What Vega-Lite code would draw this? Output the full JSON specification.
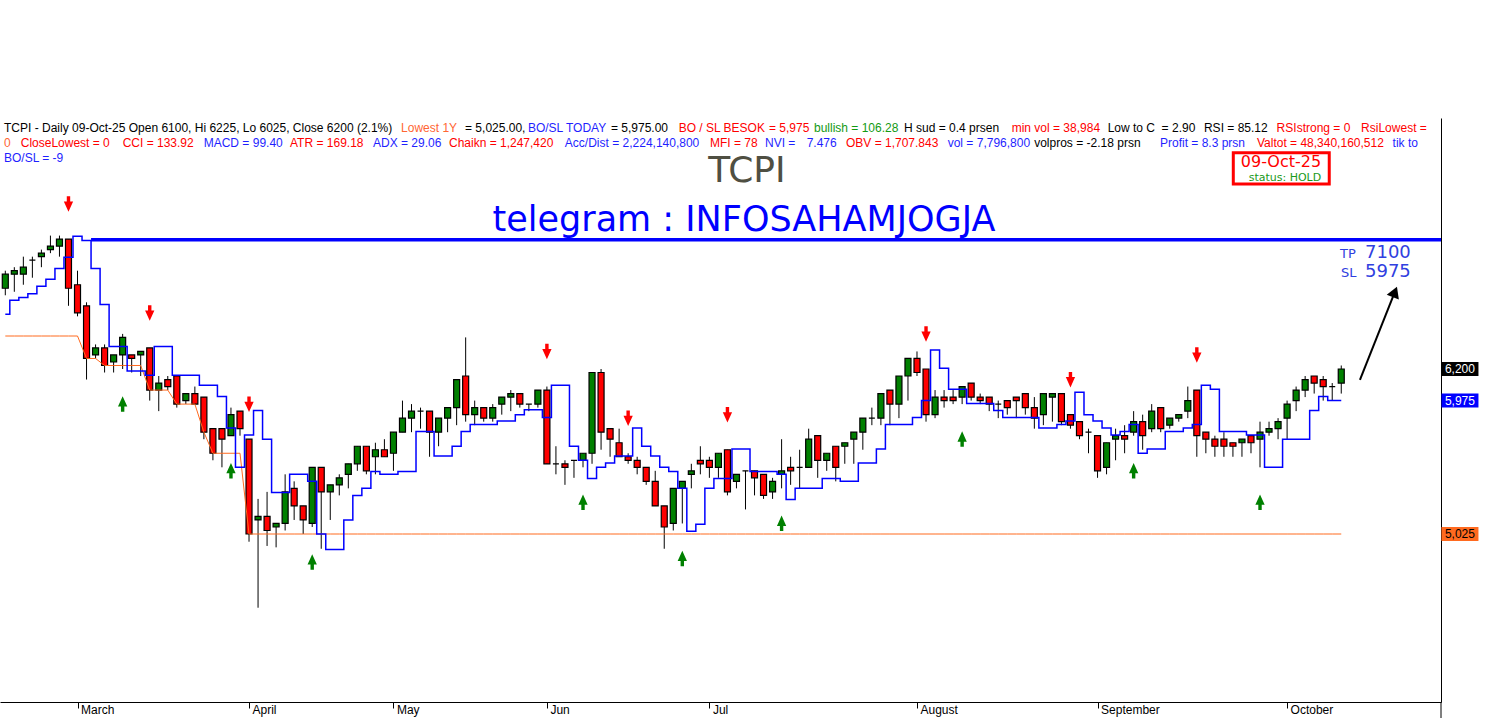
{
"$schema": "https://vega.github.io/schema/vega-lite/v6.json",
"width": 1441, "height": 584,
"autosize": {"type": "none"},
"padding": {"left": 0, "top": 118, "right": 61, "bottom": 16},
"background": "white",
"config": {"view": {"stroke": null}, "font": "Liberation Sans"},
"datasets": {
"k": [
{"t":0,"o":6775,"h":6900,"l":6725,"c":6875,"s":6590,"lo":6435},
{"t":1,"o":6875,"h":6925,"l":6750,"c":6900,"s":6690,"lo":6435},
{"t":2,"o":6875,"h":7000,"l":6800,"c":6925,"s":6710,"lo":6435},
{"t":3,"o":6975,"h":7000,"l":6850,"c":6975,"s":6735,"lo":6435},
{"t":4,"o":7000,"h":7050,"l":6925,"c":7025,"s":6790,"lo":6435},
{"t":5,"o":7050,"h":7150,"l":7025,"c":7075,"s":6840,"lo":6435},
{"t":6,"o":7075,"h":7150,"l":7000,"c":7125,"s":6915,"lo":6435},
{"t":7,"o":7125,"h":7125,"l":6650,"c":6775,"s":6995,"lo":6435,"g":"S"},
{"t":8,"o":6800,"h":6900,"l":6575,"c":6600,"s":7145,"lo":6435},
{"t":9,"o":6650,"h":6675,"l":6125,"c":6275,"s":7115,"lo":6275},
{"t":10,"o":6300,"h":6375,"l":6275,"c":6350,"s":6915,"lo":6275},
{"t":11,"o":6350,"h":6375,"l":6175,"c":6225,"s":6660,"lo":6225},
{"t":12,"o":6250,"h":6300,"l":6175,"c":6300,"s":6360,"lo":6225},
{"t":13,"o":6300,"h":6450,"l":6200,"c":6425,"s":6360,"lo":6225,"g":"B"},
{"t":14,"o":6300,"h":6300,"l":6175,"c":6275,"s":6185,"lo":6225},
{"t":15,"o":6300,"h":6325,"l":6150,"c":6325,"s":6185,"lo":6225},
{"t":16,"o":6350,"h":6350,"l":5975,"c":6050,"s":6155,"lo":6050,"g":"S"},
{"t":17,"o":6050,"h":6150,"l":5900,"c":6100,"s":6360,"lo":6050},
{"t":18,"o":6125,"h":6150,"l":6050,"c":6075,"s":6360,"lo":6050},
{"t":19,"o":6150,"h":6150,"l":5925,"c":5950,"s":6155,"lo":5950},
{"t":20,"o":5975,"h":6025,"l":5950,"c":6025,"s":6155,"lo":5950},
{"t":21,"o":6025,"h":6075,"l":5950,"c":5950,"s":6155,"lo":5950},
{"t":22,"o":6000,"h":6000,"l":5700,"c":5750,"s":6085,"lo":5750},
{"t":23,"o":5775,"h":5775,"l":5550,"c":5600,"s":6085,"lo":5600},
{"t":24,"o":5775,"h":5775,"l":5500,"c":5700,"s":6005,"lo":5600},
{"t":25,"o":5725,"h":5925,"l":5725,"c":5875,"s":5780,"lo":5600,"g":"B"},
{"t":26,"o":5900,"h":5900,"l":5725,"c":5775,"s":5500,"lo":5600},
{"t":27,"o":5700,"h":5700,"l":4970,"c":5025,"s":5730,"lo":5025,"g":"S"},
{"t":28,"o":5125,"h":5275,"l":4500,"c":5150,"s":5905,"lo":5025},
{"t":29,"o":5150,"h":5325,"l":4940,"c":5050,"s":5700,"lo":5025},
{"t":30,"o":5075,"h":5100,"l":4930,"c":5100,"s":5320,"lo":5025},
{"t":31,"o":5100,"h":5450,"l":5050,"c":5325,"s":5320,"lo":5025},
{"t":32,"o":5350,"h":5400,"l":5125,"c":5225,"s":5450,"lo":5025},
{"t":33,"o":5225,"h":5225,"l":5025,"c":5125,"s":5450,"lo":5025},
{"t":34,"o":5100,"h":5500,"l":5075,"c":5500,"s":5400,"lo":5025,"g":"B"},
{"t":35,"o":5500,"h":5500,"l":4920,"c":5325,"s":5025,"lo":5025},
{"t":36,"o":5325,"h":5375,"l":5125,"c":5375,"s":4915,"lo":5025},
{"t":37,"o":5375,"h":5450,"l":5300,"c":5425,"s":4915,"lo":5025},
{"t":38,"o":5450,"h":5525,"l":5350,"c":5525,"s":5125,"lo":5025},
{"t":39,"o":5525,"h":5650,"l":5475,"c":5650,"s":5300,"lo":5025},
{"t":40,"o":5650,"h":5650,"l":5450,"c":5475,"s":5350,"lo":5025},
{"t":41,"o":5575,"h":5675,"l":5450,"c":5625,"s":5470,"lo":5025},
{"t":42,"o":5625,"h":5700,"l":5575,"c":5575,"s":5450,"lo":5025},
{"t":43,"o":5600,"h":5750,"l":5475,"c":5750,"s":5450,"lo":5025},
{"t":44,"o":5750,"h":5975,"l":5750,"c":5850,"s":5470,"lo":5025},
{"t":45,"o":5850,"h":5950,"l":5750,"c":5900,"s":5470,"lo":5025},
{"t":46,"o":5900,"h":5925,"l":5775,"c":5900,"s":5755,"lo":5025},
{"t":47,"o":5900,"h":5900,"l":5575,"c":5750,"s":5755,"lo":5025},
{"t":48,"o":5750,"h":5850,"l":5650,"c":5850,"s":5580,"lo":5025},
{"t":49,"o":5850,"h":5925,"l":5750,"c":5925,"s":5580,"lo":5025},
{"t":50,"o":5925,"h":6125,"l":5800,"c":6125,"s":5650,"lo":5025},
{"t":51,"o":6150,"h":6425,"l":5825,"c":5875,"s":5755,"lo":5025},
{"t":52,"o":5875,"h":5975,"l":5800,"c":5925,"s":5805,"lo":5025},
{"t":53,"o":5925,"h":5925,"l":5825,"c":5850,"s":5805,"lo":5025},
{"t":54,"o":5850,"h":5950,"l":5825,"c":5925,"s":5805,"lo":5025},
{"t":55,"o":5950,"h":6000,"l":5875,"c":6000,"s":5830,"lo":5025},
{"t":56,"o":6000,"h":6050,"l":5900,"c":6025,"s":5830,"lo":5025},
{"t":57,"o":6025,"h":6025,"l":5925,"c":5950,"s":5875,"lo":5025},
{"t":58,"o":5950,"h":5950,"l":5900,"c":5950,"s":5910,"lo":5025},
{"t":59,"o":5950,"h":6050,"l":5925,"c":6050,"s":5910,"lo":5025},
{"t":60,"o":6050,"h":6075,"l":5525,"c":5525,"s":5855,"lo":5025,"g":"S"},
{"t":61,"o":5525,"h":5650,"l":5450,"c":5525,"s":6085,"lo":5025},
{"t":62,"o":5525,"h":5550,"l":5375,"c":5500,"s":6085,"lo":5025},
{"t":63,"o":5550,"h":5550,"l":5425,"c":5550,"s":5650,"lo":5025},
{"t":64,"o":5550,"h":5600,"l":5500,"c":5600,"s":5550,"lo":5025,"g":"B"},
{"t":65,"o":5600,"h":6175,"l":5525,"c":6175,"s":5420,"lo":5025},
{"t":66,"o":6175,"h":6200,"l":5625,"c":5750,"s":5500,"lo":5025},
{"t":67,"o":5775,"h":5775,"l":5575,"c":5700,"s":5530,"lo":5025},
{"t":68,"o":5675,"h":5775,"l":5575,"c":5575,"s":5580,"lo":5025},
{"t":69,"o":5575,"h":5600,"l":5525,"c":5550,"s":5580,"lo":5025,"g":"S"},
{"t":70,"o":5550,"h":5575,"l":5450,"c":5500,"s":5780,"lo":5025},
{"t":71,"o":5500,"h":5500,"l":5375,"c":5400,"s":5650,"lo":5025},
{"t":72,"o":5400,"h":5475,"l":5225,"c":5225,"s":5580,"lo":5025},
{"t":73,"o":5225,"h":5225,"l":4920,"c":5075,"s":5500,"lo":5025},
{"t":74,"o":5100,"h":5350,"l":5050,"c":5350,"s":5470,"lo":5025},
{"t":75,"o":5350,"h":5400,"l":5100,"c":5400,"s":5350,"lo":5025,"g":"B"},
{"t":76,"o":5450,"h":5525,"l":5350,"c":5475,"s":5045,"lo":5025},
{"t":77,"o":5550,"h":5650,"l":5450,"c":5525,"s":5095,"lo":5025},
{"t":78,"o":5550,"h":5575,"l":5425,"c":5500,"s":5350,"lo":5025},
{"t":79,"o":5500,"h":5600,"l":5425,"c":5600,"s":5420,"lo":5025},
{"t":80,"o":5625,"h":5625,"l":5300,"c":5325,"s":5420,"lo":5025,"g":"S"},
{"t":81,"o":5400,"h":5450,"l":5350,"c":5450,"s":5630,"lo":5025},
{"t":82,"o":5475,"h":5475,"l":5200,"c":5475,"s":5630,"lo":5025},
{"t":83,"o":5475,"h":5475,"l":5300,"c":5425,"s":5470,"lo":5025},
{"t":84,"o":5450,"h":5450,"l":5275,"c":5300,"s":5470,"lo":5025},
{"t":85,"o":5325,"h":5425,"l":5275,"c":5400,"s":5470,"lo":5025},
{"t":86,"o":5450,"h":5700,"l":5350,"c":5475,"s":5450,"lo":5025,"g":"B"},
{"t":87,"o":5500,"h":5575,"l":5375,"c":5475,"s":5270,"lo":5025},
{"t":88,"o":5500,"h":5625,"l":5350,"c":5500,"s":5350,"lo":5025},
{"t":89,"o":5500,"h":5775,"l":5500,"c":5700,"s":5350,"lo":5025},
{"t":90,"o":5725,"h":5725,"l":5425,"c":5550,"s":5350,"lo":5025},
{"t":91,"o":5550,"h":5600,"l":5475,"c":5600,"s":5420,"lo":5025},
{"t":92,"o":5650,"h":5650,"l":5400,"c":5500,"s":5420,"lo":5025},
{"t":93,"o":5650,"h":5675,"l":5525,"c":5675,"s":5400,"lo":5025},
{"t":94,"o":5700,"h":5750,"l":5525,"c":5750,"s":5400,"lo":5025},
{"t":95,"o":5750,"h":5850,"l":5625,"c":5850,"s":5530,"lo":5025},
{"t":96,"o":5850,"h":5925,"l":5800,"c":5850,"s":5530,"lo":5025},
{"t":97,"o":5850,"h":6025,"l":5800,"c":6025,"s":5630,"lo":5025},
{"t":98,"o":6050,"h":6050,"l":5800,"c":5950,"s":5805,"lo":5025},
{"t":99,"o":5950,"h":6150,"l":5850,"c":6150,"s":5805,"lo":5025},
{"t":100,"o":6150,"h":6275,"l":5975,"c":6275,"s":5805,"lo":5025},
{"t":101,"o":6275,"h":6325,"l":6150,"c":6175,"s":5855,"lo":5025},
{"t":102,"o":6200,"h":6200,"l":5825,"c":5875,"s":5975,"lo":5025,"g":"S"},
{"t":103,"o":5875,"h":6050,"l":5850,"c":6000,"s":6335,"lo":5025},
{"t":104,"o":6000,"h":6050,"l":5925,"c":5975,"s":6205,"lo":5025},
{"t":105,"o":6000,"h":6050,"l":5950,"c":5975,"s":6055,"lo":5025},
{"t":106,"o":6000,"h":6075,"l":5950,"c":6075,"s":6055,"lo":5025,"g":"B"},
{"t":107,"o":6100,"h":6100,"l":5975,"c":6000,"s":5955,"lo":5025},
{"t":108,"o":6000,"h":6025,"l":5950,"c":5975,"s":5955,"lo":5025},
{"t":109,"o":6000,"h":6000,"l":5900,"c":5950,"s":5955,"lo":5025},
{"t":110,"o":5950,"h":5975,"l":5850,"c":5950,"s":5905,"lo":5025},
{"t":111,"o":5975,"h":5975,"l":5875,"c":5925,"s":5855,"lo":5025},
{"t":112,"o":6000,"h":6000,"l":5850,"c":5975,"s":5855,"lo":5025},
{"t":113,"o":6025,"h":6025,"l":5875,"c":5925,"s":5855,"lo":5025},
{"t":114,"o":5925,"h":6000,"l":5775,"c":5850,"s":5855,"lo":5025},
{"t":115,"o":5875,"h":6025,"l":5800,"c":6025,"s":5780,"lo":5025},
{"t":116,"o":6000,"h":6025,"l":5825,"c":6025,"s":5780,"lo":5025},
{"t":117,"o":6025,"h":6025,"l":5800,"c":5825,"s":5805,"lo":5025},
{"t":118,"o":5875,"h":5875,"l":5775,"c":5800,"s":5830,"lo":5025,"g":"S"},
{"t":119,"o":5825,"h":5825,"l":5700,"c":5725,"s":6035,"lo":5025},
{"t":120,"o":5750,"h":5775,"l":5600,"c":5750,"s":5875,"lo":5025},
{"t":121,"o":5725,"h":5725,"l":5425,"c":5475,"s":5830,"lo":5025},
{"t":122,"o":5500,"h":5675,"l":5450,"c":5675,"s":5780,"lo":5025},
{"t":123,"o":5700,"h":5775,"l":5550,"c":5725,"s":5730,"lo":5025},
{"t":124,"o":5725,"h":5800,"l":5600,"c":5700,"s":5755,"lo":5025},
{"t":125,"o":5750,"h":5900,"l":5725,"c":5825,"s":5805,"lo":5025,"g":"B"},
{"t":126,"o":5825,"h":5875,"l":5625,"c":5725,"s":5600,"lo":5025},
{"t":127,"o":5775,"h":5950,"l":5750,"c":5900,"s":5630,"lo":5025},
{"t":128,"o":5925,"h":5925,"l":5750,"c":5775,"s":5630,"lo":5025},
{"t":129,"o":5800,"h":5850,"l":5775,"c":5850,"s":5755,"lo":5025},
{"t":130,"o":5850,"h":5875,"l":5825,"c":5875,"s":5755,"lo":5025},
{"t":131,"o":5900,"h":6075,"l":5850,"c":5975,"s":5780,"lo":5025},
{"t":132,"o":6050,"h":6050,"l":5575,"c":5725,"s":5805,"lo":5025,"g":"S"},
{"t":133,"o":5750,"h":5750,"l":5600,"c":5700,"s":6085,"lo":5025},
{"t":134,"o":5700,"h":5725,"l":5575,"c":5650,"s":6055,"lo":5025},
{"t":135,"o":5700,"h":5750,"l":5575,"c":5650,"s":5755,"lo":5025},
{"t":136,"o":5675,"h":5675,"l":5575,"c":5650,"s":5755,"lo":5025},
{"t":137,"o":5675,"h":5700,"l":5575,"c":5700,"s":5755,"lo":5025},
{"t":138,"o":5725,"h":5725,"l":5600,"c":5675,"s":5730,"lo":5025},
{"t":139,"o":5700,"h":5825,"l":5500,"c":5750,"s":5730,"lo":5025,"g":"B"},
{"t":140,"o":5750,"h":5825,"l":5725,"c":5775,"s":5500,"lo":5025},
{"t":141,"o":5775,"h":5850,"l":5700,"c":5825,"s":5500,"lo":5025},
{"t":142,"o":5850,"h":5975,"l":5700,"c":5950,"s":5700,"lo":5025},
{"t":143,"o":5975,"h":6075,"l":5900,"c":6050,"s":5700,"lo":5025},
{"t":144,"o":6050,"h":6150,"l":6000,"c":6125,"s":5700,"lo":5025},
{"t":145,"o":6150,"h":6150,"l":6025,"c":6100,"s":5905,"lo":5025},
{"t":146,"o":6125,"h":6150,"l":5975,"c":6075,"s":6005,"lo":5025},
{"t":147,"o":6075,"h":6100,"l":5975,"c":6075,"s":5975,"lo":5025},
{"t":148,"o":6100,"h":6225,"l":6025,"c":6200,"s":5975,"lo":5025}
],
"hdr": [
{"x":-0.14,"y":7885,"t":"TCPI - Daily 09-Oct-25 Open 6100, Hi 6225, Lo 6025, Close 6200 (2.1%)","c":"k"},
{"x":43.84,"y":7885,"t":"Lowest 1Y","c":"o"},
{"x":50.93,"y":7885,"t":"= 5,025.00,","c":"k"},
{"x":57.9,"y":7885,"t":"BO/SL TODAY","c":"b"},
{"x":67.1,"y":7885,"t":"= 5,975.00","c":"k"},
{"x":74.6,"y":7885,"t":"BO / SL BESOK","c":"r"},
{"x":84.6,"y":7885,"t":"= 5,975","c":"r"},
{"x":89.59,"y":7885,"t":"bullish = 106.28","c":"g"},
{"x":99.56,"y":7885,"t":"H sud = 0.4 prsen","c":"k"},
{"x":111.49,"y":7885,"t":"min vol = 38,984","c":"r"},
{"x":122.12,"y":7885,"t":"Low to C","c":"k"},
{"x":128.1,"y":7885,"t":"= 2.90","c":"k"},
{"x":132.79,"y":7885,"t":"RSI = 85.12","c":"k"},
{"x":140.84,"y":7885,"t":"RSIstrong = 0","c":"r"},
{"x":150.2,"y":7885,"t":"RsiLowest =","c":"r"},
{"x":-0.14,"y":7781,"t":"0","c":"o"},
{"x":1.71,"y":7781,"t":"CloseLowest = 0","c":"r"},
{"x":13.0,"y":7781,"t":"CCI = 133.92","c":"r"},
{"x":21.98,"y":7781,"t":"MACD = 99.40","c":"b"},
{"x":31.54,"y":7781,"t":"ATR = 169.18","c":"r"},
{"x":40.73,"y":7781,"t":"ADX = 29.06","c":"b"},
{"x":49.15,"y":7781,"t":"Chaikn = 1,247,420","c":"r"},
{"x":61.99,"y":7781,"t":"Acc/Dist = 2,224,140,800","c":"b"},
{"x":78.07,"y":7781,"t":"MFI = 78","c":"r"},
{"x":84.16,"y":7781,"t":"NVI =","c":"b"},
{"x":88.78,"y":7781,"t":"7.476","c":"b"},
{"x":93.13,"y":7781,"t":"OBV = 1,707.843","c":"r"},
{"x":104.4,"y":7781,"t":"vol = 7,796,800","c":"b"},
{"x":113.98,"y":7781,"t":"volpros = -2.18 prsn","c":"k"},
{"x":127.92,"y":7781,"t":"Profit = 8.3 prsn","c":"b"},
{"x":138.66,"y":7781,"t":"Valtot = 48,340,160,512","c":"r"},
{"x":153.69,"y":7781,"t":"tik to","c":"b"},
{"x":-0.14,"y":7676,"t":"BO/SL = -9","c":"b"}
],
"rl": [
{"p":6200,"t":"6,200","k":"a"},
{"p":5975,"t":"5,975","k":"b"},
{"p":5025,"t":"5,025","k":"c"}
]
},
"layer": [
{
"data": {"name": "k"},
"mark": {"type": "rule", "color": "black", "strokeWidth": 1},
"encoding": {
"x": {"field": "t", "type": "quantitative", "title": null,
 "scale": {"domain": [-0.587, 159.05], "nice": false, "zero": false, "padding": 0},
 "axis": {"orient": "bottom", "values": [8,27,43,60,78,101,121,142],
  "labelExpr": "datum.value==8?'March':datum.value==27?'April':datum.value==43?'May':datum.value==60?'Jun':datum.value==78?'Jul':datum.value==101?'August':datum.value==121?'September':'October'",
  "grid": false, "domainColor": "black", "domainWidth": 1, "tickColor": "black", "tickSize": 6,
  "labelAlign": "left", "labelBaseline": "top", "labelPadding": -4, "labelOffset": 3,
  "labelFont": "Liberation Sans", "labelFontSize": 12, "labelColor": "#000000",
  "labelFlush": false, "labelOverlap": false, "labelBound": false}},
"y": {"field": "l", "type": "quantitative", "title": null,
 "scale": {"domain": [3828.7, 7987.4], "nice": false, "zero": false, "padding": 0},
 "axis": {"orient": "right", "labels": false, "ticks": false, "grid": false, "domainColor": "black", "domainWidth": 1}},
"y2": {"field": "h"}
}
},
{
"data": {"name": "k"},
"mark": {"type": "bar", "size": 6, "stroke": "black", "strokeWidth": 1.2},
"encoding": {
"x": {"field": "t", "type": "quantitative", "title": null},
"y": {"field": "o", "type": "quantitative", "title": null},
"y2": {"field": "c"},
"fill": {"condition": {"test": "datum.c > datum.o", "value": "#008000"}, "value": "#ff0000"}
}
},
{
"data": {"name": "k"},
"mark": {"type": "line", "color": "#ff6a1f", "strokeWidth": 1},
"encoding": {
"x": {"field": "t", "type": "quantitative", "title": null},
"y": {"field": "lo", "type": "quantitative", "title": null}
}
},
{
"data": {"name": "k"},
"mark": {"type": "line", "color": "#0000ff", "strokeWidth": 1.5, "interpolate": "step"},
"encoding": {
"x": {"field": "t", "type": "quantitative", "title": null},
"y": {"field": "s", "type": "quantitative", "title": null}
}
},
{
"data": {"values": [{}]},
"mark": {"type": "rule", "color": "#0000ff", "strokeWidth": 3.4},
"encoding": {
"x": {"datum": 9.5, "type": "quantitative"},
"x2": {"datum": 159.05},
"y": {"datum": 7120, "type": "quantitative"}
}
},
{
"data": {"name": "k"},
"transform": [{"filter": "datum.g == 'S'"}],
"mark": {"type": "point", "shape": "M-0.22,-1L0.22,-1L0.22,-0.33L0.6,-0.33L0,1L-0.6,-0.33L-0.22,-0.33Z", "size": 240, "filled": true, "color": "#ff0000", "opacity": 1, "strokeWidth": 0, "yOffset": -35},
"encoding": {
"x": {"field": "t", "type": "quantitative", "title": null},
"y": {"field": "h", "type": "quantitative", "title": null}
}
},
{
"data": {"name": "k"},
"transform": [{"filter": "datum.g == 'B'"}],
"mark": {"type": "point", "shape": "M-0.22,1L0.22,1L0.22,0.33L0.6,0.33L0,-1L-0.6,0.33L-0.22,0.33Z", "size": 240, "filled": true, "color": "#008000", "opacity": 1, "strokeWidth": 0, "yOffset": 35},
"encoding": {
"x": {"field": "t", "type": "quantitative", "title": null},
"y": {"field": "l", "type": "quantitative", "title": null}
}
},
{
"data": {"name": "hdr"},
"mark": {"type": "text", "align": "left", "baseline": "alphabetic", "font": "Liberation Sans", "fontSize": 12},
"encoding": {
"x": {"field": "x", "type": "quantitative", "title": null},
"y": {"field": "y", "type": "quantitative", "title": null},
"text": {"field": "t"},
"color": {"field": "c", "type": "nominal", "legend": null,
 "scale": {"domain": ["k","r","b","g","o"], "range": ["#000000","#ff0000","#1f1fff","#139a13","#ff6633"]}}
}
},
{
"data": {"values": [{"t": "TCPI"}]},
"mark": {"type": "text", "align": "center", "baseline": "alphabetic", "font": "DejaVu Sans", "fontSize": 36, "color": "#4f4f42"},
"encoding": {
"x": {"datum": 82.17, "type": "quantitative"},
"y": {"datum": 7532, "type": "quantitative"},
"text": {"field": "t"}
}
},
{
"data": {"values": [{"t": "telegram : INFOSAHAMJOGJA"}]},
"mark": {"type": "text", "align": "center", "baseline": "alphabetic", "font": "DejaVu Sans", "fontSize": 35, "color": "#0000ff"},
"encoding": {
"x": {"datum": 81.83, "type": "quantitative"},
"y": {"datum": 7183, "type": "quantitative"},
"text": {"field": "t"}
}
},
{
"data": {"values": [{}]},
"mark": {"type": "rect", "fill": "white", "stroke": "#ff0000", "strokeWidth": 3},
"encoding": {
"x": {"datum": 136.04, "type": "quantitative"},
"x2": {"datum": 146.67},
"y": {"datum": 7740, "type": "quantitative"},
"y2": {"datum": 7517}
}
},
{
"data": {"values": [{"t": "09-Oct-25"}]},
"mark": {"type": "text", "align": "center", "baseline": "alphabetic", "font": "DejaVu Sans", "fontSize": 16, "color": "#ff0000"},
"encoding": {
"x": {"datum": 141.32, "type": "quantitative"},
"y": {"datum": 7641, "type": "quantitative"},
"text": {"field": "t"}
}
},
{
"data": {"values": [{"t": "status: HOLD"}]},
"mark": {"type": "text", "align": "center", "baseline": "alphabetic", "font": "DejaVu Sans", "fontSize": 11, "color": "#1a9a1a"},
"encoding": {
"x": {"datum": 141.76, "type": "quantitative"},
"y": {"datum": 7539, "type": "quantitative"},
"text": {"field": "t"}
}
},
{
"data": {"values": [{"t": "TP"}]},
"mark": {"type": "text", "align": "left", "baseline": "alphabetic", "font": "DejaVu Sans", "fontSize": 13, "color": "#3040e0"},
"encoding": {
"x": {"datum": 147.86, "type": "quantitative"},
"y": {"datum": 6988, "type": "quantitative"},
"text": {"field": "t"}
}
},
{
"data": {"values": [{"t": "7100"}]},
"mark": {"type": "text", "align": "left", "baseline": "alphabetic", "font": "DejaVu Sans", "fontSize": 18, "color": "#3040e0"},
"encoding": {
"x": {"datum": 150.63, "type": "quantitative"},
"y": {"datum": 6988, "type": "quantitative"},
"text": {"field": "t"}
}
},
{
"data": {"values": [{"t": "SL"}]},
"mark": {"type": "text", "align": "left", "baseline": "alphabetic", "font": "DejaVu Sans", "fontSize": 13, "color": "#3040e0"},
"encoding": {
"x": {"datum": 147.97, "type": "quantitative"},
"y": {"datum": 6857, "type": "quantitative"},
"text": {"field": "t"}
}
},
{
"data": {"values": [{"t": "5975"}]},
"mark": {"type": "text", "align": "left", "baseline": "alphabetic", "font": "DejaVu Sans", "fontSize": 18, "color": "#3040e0"},
"encoding": {
"x": {"datum": 150.63, "type": "quantitative"},
"y": {"datum": 6857, "type": "quantitative"},
"text": {"field": "t"}
}
},
{
"data": {"values": [{}]},
"mark": {"type": "rule", "color": "black", "strokeWidth": 2},
"encoding": {
"x": {"datum": 150.07, "type": "quantitative"},
"x2": {"datum": 153.94},
"y": {"datum": 6122, "type": "quantitative"},
"y2": {"datum": 6749}
}
},
{
"data": {"values": [{}]},
"mark": {"type": "point", "shape": "triangle-up", "size": 170, "filled": true, "color": "black", "opacity": 1, "angle": 21.6},
"encoding": {
"x": {"datum": 153.94, "type": "quantitative"},
"y": {"datum": 6749, "type": "quantitative"}
}
},
{
"data": {"name": "rl"},
"mark": {"type": "tick", "orient": "horizontal", "size": 37, "thickness": 14, "opacity": 1},
"encoding": {
"x": {"datum": 161.15, "type": "quantitative"},
"y": {"field": "p", "type": "quantitative", "title": null},
"color": {"condition": [{"test": "datum.k == 'a'", "value": "#000000"}, {"test": "datum.k == 'b'", "value": "#0000ff"}], "value": "#ff6a1f"}
}
},
{
"data": {"name": "rl"},
"mark": {"type": "text", "align": "center", "baseline": "middle", "font": "Liberation Sans", "fontSize": 12},
"encoding": {
"x": {"datum": 161.15, "type": "quantitative"},
"y": {"field": "p", "type": "quantitative", "title": null},
"text": {"field": "t"},
"color": {"condition": {"test": "datum.k == 'c'", "value": "#000000"}, "value": "#ffffff"}
}
},
{
"data": {"values": [{}]},
"mark": {"type": "rule", "color": "black", "strokeWidth": 1},
"encoding": {
"x": {"datum": 159.05, "type": "quantitative"},
"y": {"datum": 3828.7, "type": "quantitative"},
"y2": {"datum": 3714}
}
}
]
}
